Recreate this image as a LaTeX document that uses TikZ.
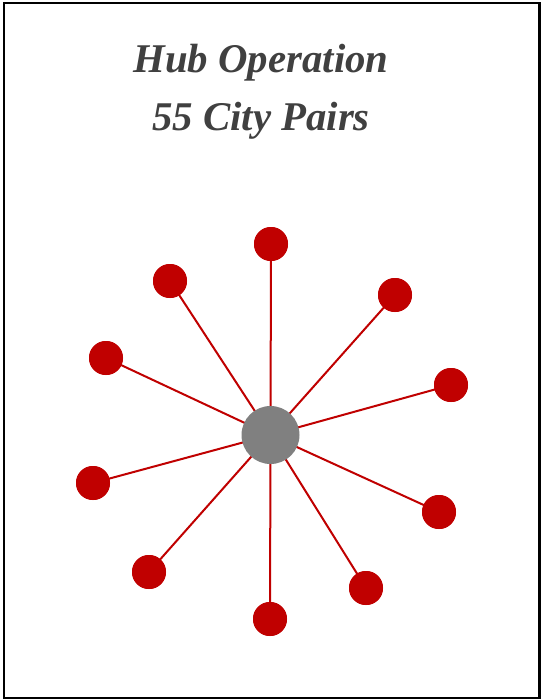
\documentclass[tikz,border=0pt]{standalone}
\usepackage{fontspec}
\setmainfont{Liberation Serif}
\definecolor{hubred}{HTML}{C00000}
\definecolor{hubgray}{HTML}{808080}
\definecolor{titlegray}{HTML}{404040}
\begin{document}
\begin{tikzpicture}[x=0.75pt,y=-0.75pt,
  city/.style={circle,fill=hubred,draw=none,minimum size=34*0.75pt,inner sep=0pt},
  hub/.style={circle,fill=hubgray,draw=none,minimum size=58*0.75pt,inner sep=0pt},
  route/.style={draw=hubred,line width=1.5pt},
  titletext/.style={font=\fontsize{30.6}{36}\selectfont\bfseries\itshape,text=titlegray,anchor=base,inner sep=0pt}]
\useasboundingbox (0,0) rectangle (541,700);
\fill[white] (0,0) rectangle (541,700);
\draw[line width=1.6pt,black] (4,3) rectangle (539.5,698);
\node[titletext] (t1) at (261,72) {Hub Operation};
\node[titletext] (t2) at (261,130) {55 City Pairs};
\coordinate (h) at (270.5,435);
\foreach \n/\x/\y in {1/271/244, 2/170/281, 3/395/295, 4/106/358, 5/451/385,
                      6/93/483, 7/439/512, 8/149/572, 9/366/588, 10/270/619} {
  \node[city] (c\n) at (\x,\y) {};
  \draw[route] (h) -- (c\n.center);
}
\node[hub] (hub) at (h) {};
\foreach \n in {1,...,10} { \node[city] at (c\n) {}; }
\end{tikzpicture}
\end{document}
